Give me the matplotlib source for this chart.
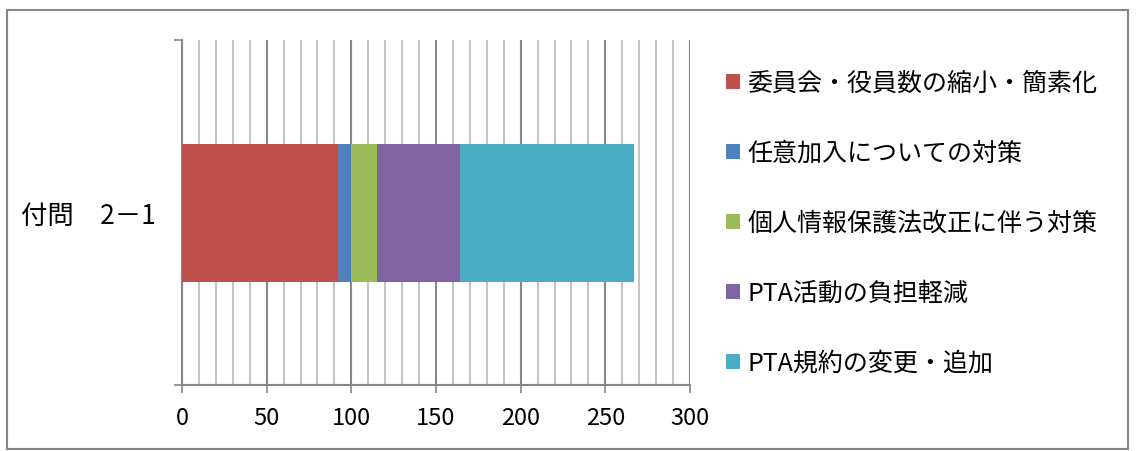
import matplotlib
matplotlib.use('Agg')
import matplotlib.pyplot as plt
import matplotlib.patches as patches
from matplotlib.ticker import MultipleLocator

plt.rcParams['font.family'] = ['Noto Sans CJK JP', 'DejaVu Sans']

# Data
category = ['付問\u30002－1']
series_names = ['委員会・役員数の縮小・簡素化', '任意加入についての対策', '個人情報保護法改正に伴う対策',
                'PTA活動の負担軽減', 'PTA規約の変更・追加']
series_values = [92, 8, 15, 49, 103]
colors = ['#C0504D', '#4F81BD', '#9BBB59', '#8064A2', '#4BACC6']
x_ticks = [0, 50, 100, 150, 200, 250, 300]

fig = plt.figure(figsize=(11.36, 4.52), dpi=100)
ax = fig.add_axes([182 / 1136, 1 - 386 / 452, 508 / 1136, 345 / 452])

# Outer chart border
fig.patches.append(patches.Rectangle((7 / 1136, 2 / 452), 1121 / 1136, 439 / 452,
                                     transform=fig.transFigure, fill=False,
                                     edgecolor='#868686', linewidth=1.5))

left = 0
for name, val, c in zip(series_names, series_values, colors):
    ax.barh(0, val, left=left, height=0.4, color=c, label=name, zorder=3)
    left += val

ax.set_xlim(0, 300)
ax.set_ylim(-0.5, 0.5)

# Gridlines: minor every 10, major every 50
ax.xaxis.set_major_locator(MultipleLocator(50))
ax.xaxis.set_minor_locator(MultipleLocator(10))
ax.grid(True, axis='x', which='minor', color='#c4c4c4', linewidth=1.5, zorder=0)
ax.grid(True, axis='x', which='major', color='#888888', linewidth=1.5, zorder=0)
ax.set_xticks(x_ticks)
ax.tick_params(axis='x', which='major', length=6, width=1.2, color='#868686',
               labelsize=17, pad=9)
ax.tick_params(axis='x', which='minor', length=0)

ax.set_yticks([0])
ax.set_yticklabels(category)
ax.set_yticks([-0.5, 0.5], minor=True)
ax.tick_params(axis='y', which='major', length=0, labelsize=19, pad=19)
ax.tick_params(axis='y', which='minor', length=6, width=1.2, color='#868686')

for s in ['top', 'right']:
    ax.spines[s].set_visible(False)
for s in ['left', 'bottom']:
    ax.spines[s].set_color('#868686')
    ax.spines[s].set_linewidth(1.5)

ax.legend(loc='upper left', bbox_to_anchor=(726 / 1136, 1 - 71 / 452),
          bbox_transform=fig.transFigure, frameon=False, fontsize=18,
          handlelength=0.55, handleheight=0.55, handletextpad=0.3,
          labelspacing=1.76, borderpad=0, borderaxespad=0)

fig.savefig('out.png', dpi=100)
